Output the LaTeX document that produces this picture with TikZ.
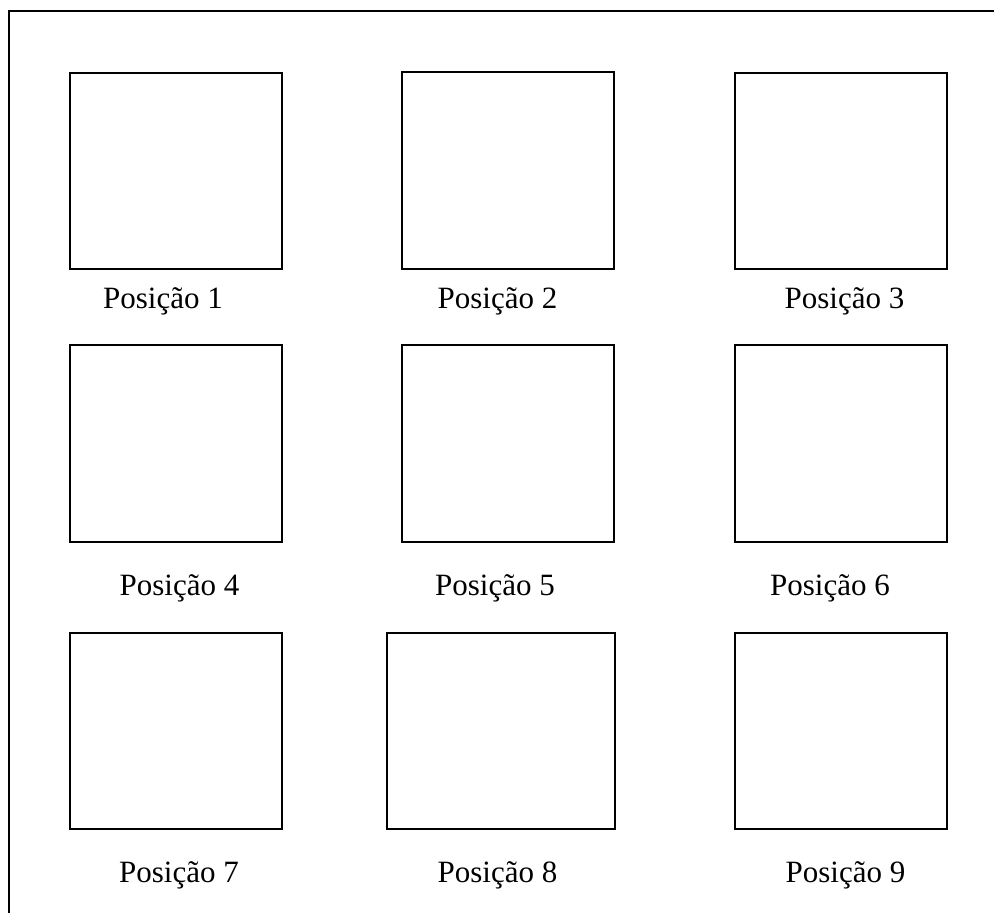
\documentclass[tikz,border=0pt]{standalone}
\usepackage{fontspec}
\setmainfont{Liberation Serif}
\tikzset{
  posbox/.style={draw, line width=0.9pt, inner sep=0pt, anchor=north west, minimum width=106pt},
  poslabel/.style={anchor=base, inner sep=0pt, font=\fontsize{15.5}{18}\selectfont}
}
\begin{document}
\begin{tikzpicture}[x=0.5pt, y=-0.5pt]

            \useasboundingbox (0,0) rectangle (994,912);
            \clip (0,0) rectangle (994,912);

            % --- Moldura exterior ---
            \draw[line width=1.3pt] (9,11) rectangle (1010,930);

            % --- Primeira linha ---
            \node[posbox, minimum height=98pt] (b1) at (69,72) {};
            \node[posbox, minimum height=98.5pt] (b2) at (401,71) {};
            \node[posbox, minimum height=98pt] (b3) at (734,72) {};
            \node[poslabel] (l1) at (163,308) {Posição 1};
            \node[poslabel] (l2) at (497.5,308) {Posição 2};
            \node[poslabel] (l3) at (844.5,308) {Posição 3};

            % --- Segunda linha ---
            \node[posbox, minimum height=98.5pt] (b4) at (69,344) {};
            \node[posbox, minimum height=98.5pt] (b5) at (401,344) {};
            \node[posbox, minimum height=98.5pt] (b6) at (734,344) {};
            \node[poslabel] (l4) at (179.5,595) {Posição 4};
            \node[poslabel] (l5) at (495,595) {Posição 5};
            \node[poslabel] (l6) at (830,595) {Posição 6};

            % --- Terceira linha (caixa 8 mais larga) ---
            \node[posbox, minimum height=98pt] (b7) at (69,632) {};
            \node[posbox, minimum height=98pt, minimum width=114pt] (b8) at (386,632) {};
            \node[posbox, minimum height=98pt] (b9) at (734,632) {};
            \node[poslabel] (l7) at (179,882) {Posição 7};
            \node[poslabel] (l8) at (497.5,882) {Posição 8};
            \node[poslabel] (l9) at (845.5,882) {Posição 9};

        \end{tikzpicture}
\end{document}
